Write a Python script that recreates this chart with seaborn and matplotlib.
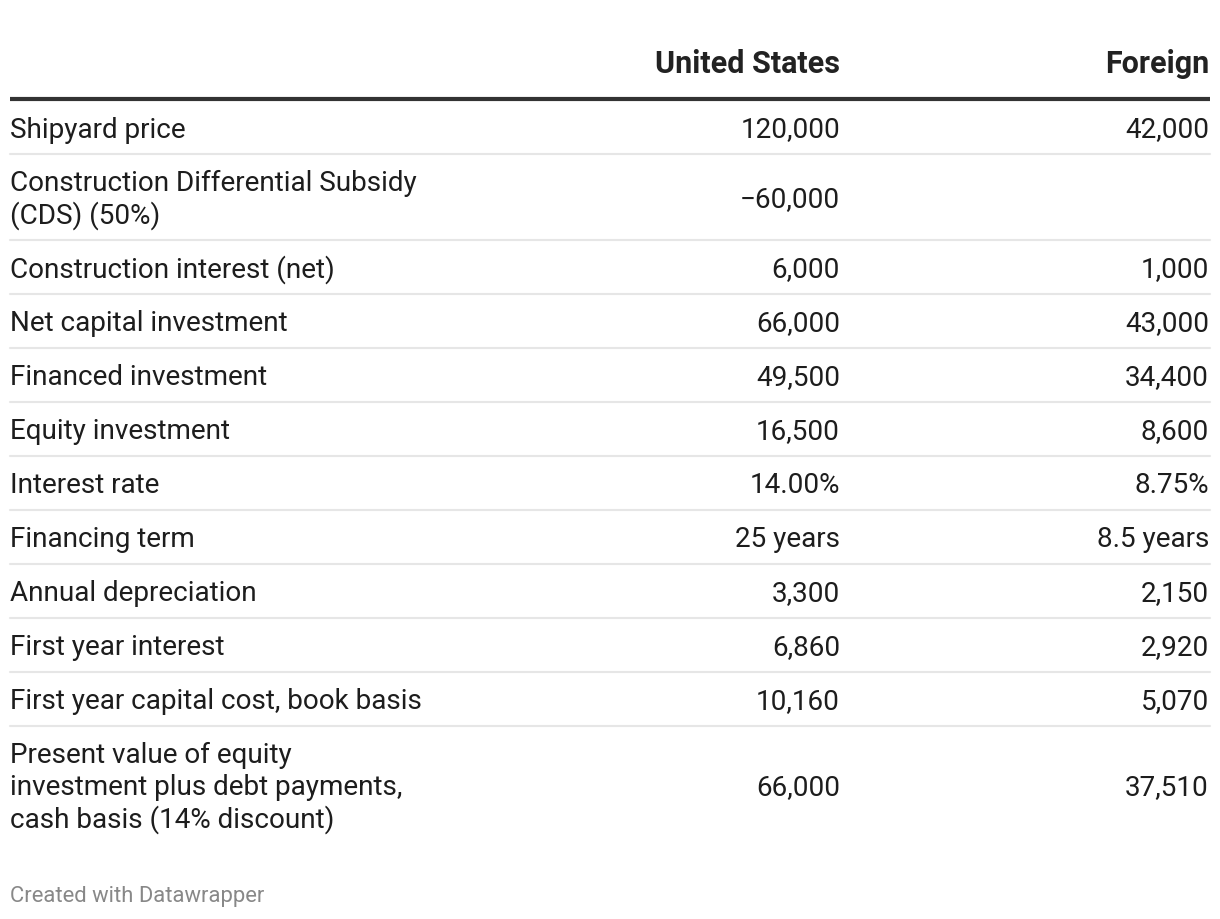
import matplotlib
matplotlib.use("Agg")
import matplotlib.pyplot as plt
import seaborn as sns

# table content
columns = ["United States", "Foreign"]
row_labels = [
    "Shipyard price",
    "Construction Differential Subsidy\n(CDS) (50%)",
    "Construction interest (net)",
    "Net capital investment",
    "Financed investment",
    "Equity investment",
    "Interest rate",
    "Financing term",
    "Annual depreciation",
    "First year interest",
    "First year capital cost, book basis",
    "Present value of equity\ninvestment plus debt payments,\ncash basis (14% discount)",
]
us_values = ["120,000", "\u221260,000", "6,000", "66,000", "49,500", "16,500",
             "14.00%", "25 years", "3,300", "6,860", "10,160", "66,000"]
foreign_values = ["42,000", "", "1,000", "43,000", "34,400", "8,600",
                  "8.75%", "8.5 years", "2,150", "2,920", "5,070", "37,510"]
footer = "Created with Datawrapper"

sns.set_theme(style="white")
plt.rcParams['font.family'] = ['Roboto', 'DejaVu Sans']

W, H = 1220, 920
fig = plt.figure(figsize=(W / 100, H / 100), dpi=100)
ax = fig.add_axes([0, 0, 1, 1])
ax.set_xlim(0, W)
ax.set_ylim(H, 0)
ax.axis('off')

left, col_x = 10, [840, 1209]
fs = 20.1
text_color = "#1d1d1d"

# header
for name, x in zip(columns, col_x):
    ax.text(x, 64, name, ha='right', va='center', fontsize=22,
            fontweight='bold', color="#222222")
ax.plot([left, 1210], [100, 100], color="#333333", lw=3, solid_capstyle='butt')

# rows: height grows with the number of wrapped lines
top = 101
for i, (label, us, fo) in enumerate(zip(row_labels, us_values, foreign_values)):
    n_lines = label.count("\n") + 1
    h = 54 + 32 * (n_lines - 1)
    yc = top + h / 2 + 2
    ax.text(left, yc, label, ha='left', va='center', fontsize=fs,
            color=text_color, linespacing=1.2)
    ax.text(col_x[0], yc, us, ha='right', va='center', fontsize=fs, color=text_color)
    ax.text(col_x[1], yc, fo, ha='right', va='center', fontsize=fs, color=text_color)
    top += h
    if i < len(row_labels) - 1:
        ax.plot([left, 1210], [top, top], color="#e6e6e6", lw=1.5)

ax.text(left, 897, footer, ha='left', va='center', fontsize=15.8, color="#888888")

fig.savefig("out.png", dpi=100)
